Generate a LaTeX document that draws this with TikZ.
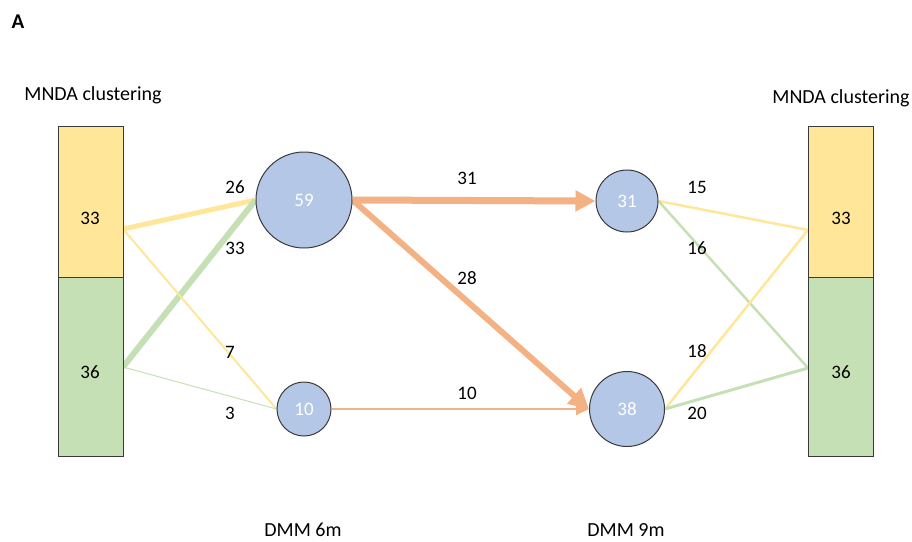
\documentclass[tikz,border=0pt]{standalone}
\usepackage{fontspec}
\setmainfont{Carlito}
\usetikzlibrary{arrows.meta,backgrounds}

\definecolor{barYellow}{HTML}{FFE699}
\definecolor{barGreen}{HTML}{C5E0B4}
\definecolor{nodeBlue}{HTML}{B4C7E7}
\definecolor{flowOrange}{HTML}{F4B183}
\definecolor{edgeGrey}{HTML}{3A3A3A}

\tikzset{
  bar/.style={draw=edgeGrey, line width=1pt, minimum width=65pt, inner sep=0pt, anchor=north west},
  cluster/.style={circle, draw=edgeGrey, line width=1pt, fill=nodeBlue, inner sep=0pt,
                  text=white, font=\fontsize{19}{19}\selectfont},
  num/.style={font=\fontsize{19}{19}\selectfont, inner sep=0pt},
  title/.style={font=\fontsize{20}{20}\selectfont, inner sep=0pt},
  yflow/.style={draw=barYellow},
  gflow/.style={draw=barGreen},
  oflow/.style={draw=flowOrange},
  bighead/.style={-{Triangle[length=20pt,width=20pt]}},
  smallhead/.style={-{Triangle[length=13pt,width=12pt]}},
}

\begin{document}
\begin{tikzpicture}[x=1pt,y=-1pt]
  \useasboundingbox (0,0) rectangle (912,541);

  % panel letter and column headings
  \node[font=\fontsize{21}{21}\selectfont\bfseries, inner sep=0pt] (panel) at (18,22) {A};
  \node[title] (ltitle) at (93,95) {MNDA clustering};
  \node[title] (rtitle) at (841,98) {MNDA clustering};
  \node[title] (t6) at (303,530) {DMM 6m};
  \node[title] (t9) at (626,530) {DMM 9m};

  % stacked bars: MNDA clusters
  \node[bar, fill=barYellow, minimum height=151pt] (ly) at (58,126) {};
  \node[bar, fill=barGreen, minimum height=179pt] (lg) at (58,277) {};
  \node[bar, fill=barYellow, minimum height=151pt] (ry) at (808,126) {};
  \node[bar, fill=barGreen, minimum height=179pt] (rg) at (808,277) {};
  \node[num] (lyn) at (90,218) {33};
  \node[num] (lgn) at (90,372) {36};
  \node[num] (ryn) at (841,218) {33};
  \node[num] (rgn) at (841,372) {36};

  % attachment points on the bars
  \coordinate (lyp) at (123,229);
  \coordinate (lgp) at (123,367);
  \coordinate (ryp) at (808,230);
  \coordinate (rgp) at (808,368);

  % DMM clusters
  \node[cluster, minimum size=96pt] (c59) at (304,200) {59};
  \node[cluster, minimum size=54pt] (c10) at (304,409) {10};
  \node[cluster, minimum size=62pt] (c31) at (627,201) {31};
  \node[cluster, minimum size=75pt] (c38) at (627,409) {38};

  \begin{scope}[on background layer]
    % MNDA -> DMM 6m
    \draw[yflow, line width=5pt] (lyp) -- (c59.west);
    \draw[gflow, line width=6pt] (lgp) -- (c59.west);
    \draw[yflow, line width=2pt] (lyp) -- (c10.west);
    \draw[gflow, line width=1pt] (lgp) -- (c10.west);

    % DMM 6m -> DMM 9m
    \draw[oflow, line width=7pt, bighead] (c59.east) -- (c31.west);
    \draw[oflow, line width=6pt, bighead] (c59.east) -- (c38.west);
    \draw[oflow, line width=2pt, smallhead] (c10.east) -- (c38.west);

    % DMM 9m -> MNDA
    \draw[yflow, line width=2.5pt] (c31.east) -- (ryp);
    \draw[gflow, line width=2.5pt] (c31.east) -- (rgp);
    \draw[yflow, line width=2.5pt] (c38.east) -- (ryp);
    \draw[gflow, line width=3pt] (c38.east) -- (rgp);
  \end{scope}

  % flow counts
  \node[num] (n26) at (235,187) {26};
  \node[num] (n33) at (235,248) {33};
  \node[num] (n7)  at (230,352) {7};
  \node[num] (n3)  at (230,413) {3};
  \node[num] (n31) at (467,178) {31};
  \node[num] (n28) at (467,278) {28};
  \node[num] (n10) at (467,393) {10};
  \node[num] (n15) at (697,187) {15};
  \node[num] (n16) at (697,248) {16};
  \node[num] (n18) at (697,351) {18};
  \node[num] (n20) at (697,413) {20};
\end{tikzpicture}
\end{document}
